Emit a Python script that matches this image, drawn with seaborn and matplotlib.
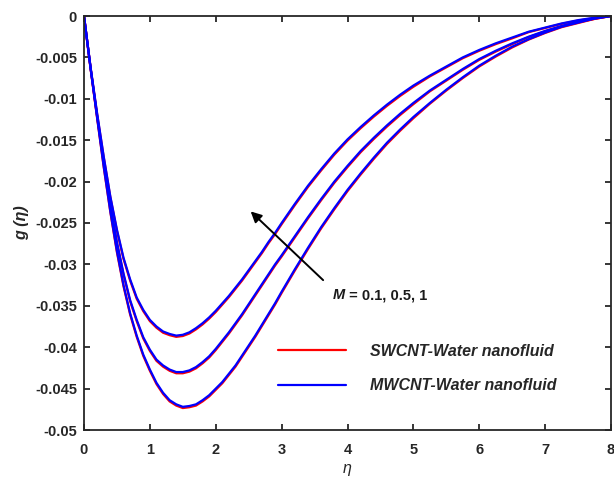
import numpy as np
import pandas as pd
import matplotlib
matplotlib.use("Agg")
import matplotlib.pyplot as plt
import seaborn as sns

# similarity variable
eta = [0.0, 0.1, 0.2, 0.3, 0.4, 0.5, 0.6, 0.7, 0.8, 0.9, 1.0, 1.1, 1.2, 1.3,
       1.4, 1.5, 1.6, 1.7, 1.8, 1.9, 2.0, 2.1, 2.2, 2.3, 2.4, 2.5, 2.6, 2.7,
       2.8, 2.9, 3.0,
       3.2, 3.4, 3.6, 3.8, 4.0, 4.2, 4.4, 4.6, 4.8, 5.0,
       5.25, 5.5, 5.75, 6.0, 6.25, 6.5, 6.75, 7.0, 7.25, 7.5, 7.75, 8.0]

# MWCNT-Water nanofluid, g(eta) for M = 1, 0.5, 0.1
mw_M1 = [0, -0.0062, -0.0118, -0.0170, -0.0218, -0.0258, -0.0292, -0.0318,
         -0.0340, -0.0355, -0.0367, -0.0375, -0.0381, -0.0384, -0.0386,
         -0.0385, -0.0382, -0.0377, -0.0371, -0.0364, -0.0356, -0.0347,
         -0.0338, -0.0328, -0.0318, -0.0307, -0.0296, -0.0285, -0.0273,
         -0.0262, -0.0250,
         -0.0227, -0.0205, -0.0185, -0.0166, -0.0149, -0.0134, -0.0120,
         -0.0107, -0.0095, -0.0084,
         -0.0072, -0.0061, -0.0050, -0.0041, -0.0033, -0.0026, -0.0019,
         -0.0014, -0.0009, -0.0005, -0.0002, 0]
mw_M05 = [0, -0.0063, -0.0121, -0.0177, -0.0228, -0.0273, -0.0311, -0.0343,
          -0.0367, -0.0388, -0.0403, -0.0415, -0.0422, -0.0427, -0.0430,
          -0.0430, -0.0428, -0.0424, -0.0418, -0.0411, -0.0402, -0.0392,
          -0.0382, -0.0371, -0.0360, -0.0348, -0.0336, -0.0324, -0.0312,
          -0.0300, -0.0289,
          -0.0266, -0.0243, -0.0221, -0.0200, -0.0181, -0.0163, -0.0147,
          -0.0132, -0.0118, -0.0105,
          -0.0090, -0.0077, -0.0064, -0.0052, -0.0042, -0.0033, -0.0025,
          -0.0018, -0.0012, -0.0007, -0.0003, 0]
mw_M01 = [0, -0.0063, -0.0123, -0.0182, -0.0236, -0.0284, -0.0325, -0.0359,
          -0.0386, -0.0409, -0.0427, -0.0443, -0.0455, -0.0464, -0.0469,
          -0.0472, -0.0471, -0.0469, -0.0464, -0.0458, -0.0450, -0.0442,
          -0.0432, -0.0422, -0.0410, -0.0398, -0.0386, -0.0373, -0.0360,
          -0.0347, -0.0333,
          -0.0306, -0.0280, -0.0255, -0.0232, -0.0210, -0.0190, -0.0171,
          -0.0153, -0.0137, -0.0122,
          -0.0105, -0.0089, -0.0074, -0.0060, -0.0048, -0.0037, -0.0028,
          -0.0020, -0.0013, -0.0008, -0.0003, 0]

# SWCNT-Water nanofluid, g(eta) for M = 1, 0.5, 0.1
sw_M1 = [0, -0.00625, -0.0119, -0.0171, -0.0219, -0.02595, -0.02935,
         -0.03195, -0.03415, -0.03565, -0.03685, -0.03765, -0.03825,
         -0.03855, -0.03875, -0.03865, -0.03835, -0.03785, -0.03725,
         -0.03655, -0.03575, -0.03485, -0.03395, -0.03295, -0.03195,
         -0.03085, -0.02975, -0.02865, -0.02745, -0.02635, -0.02515,
         -0.02285, -0.02065, -0.01865, -0.01675, -0.01505, -0.01355,
         -0.01215, -0.01085, -0.00965, -0.00855,
         -0.0073, -0.0062, -0.0051, -0.0042, -0.0034, -0.0027, -0.00195,
         -0.00145, -0.00095, -0.00055, -0.00025, 0]
sw_M05 = [0, -0.00635, -0.0122, -0.0178, -0.0229, -0.02745, -0.03125,
          -0.03445, -0.03685, -0.03895, -0.04045, -0.04165, -0.04235,
          -0.04285, -0.04315, -0.04315, -0.04295, -0.04255, -0.04195,
          -0.04125, -0.04035, -0.03935, -0.03835, -0.03725, -0.03615,
          -0.03495, -0.03375, -0.03255, -0.03135, -0.03015, -0.02905,
          -0.02675, -0.02445, -0.02225, -0.02015, -0.01825, -0.01645,
          -0.01485, -0.01335, -0.01195, -0.01065,
          -0.0091, -0.0078, -0.0065, -0.0053, -0.0043, -0.0034, -0.00255,
          -0.00185, -0.00125, -0.00075, -0.00035, 0]
sw_M01 = [0, -0.00635, -0.0124, -0.0183, -0.0237, -0.02855, -0.03265,
          -0.03605, -0.03875, -0.04105, -0.04285, -0.04445, -0.04565,
          -0.04655, -0.04705, -0.04735, -0.04725, -0.04705, -0.04655,
          -0.04595, -0.04515, -0.04435, -0.04335, -0.04235, -0.04115,
          -0.03995, -0.03875, -0.03745, -0.03615, -0.03485, -0.03345,
          -0.03075, -0.02815, -0.02565, -0.02335, -0.02115, -0.01915,
          -0.01725, -0.01545, -0.01385, -0.01235,
          -0.0106, -0.0090, -0.0075, -0.0061, -0.0049, -0.0038, -0.00285,
          -0.00205, -0.00135, -0.00085, -0.00035, 0]

fluids = ["SWCNT-Water nanofluid", "MWCNT-Water nanofluid"]
x_ticks = [0, 1, 2, 3, 4, 5, 6, 7, 8]
y_ticks = [0, -0.005, -0.01, -0.015, -0.02, -0.025, -0.03, -0.035, -0.04,
           -0.045, -0.05]

series = {
    (fluids[0], 1): sw_M1, (fluids[0], 0.5): sw_M05, (fluids[0], 0.1): sw_M01,
    (fluids[1], 1): mw_M1, (fluids[1], 0.5): mw_M05, (fluids[1], 0.1): mw_M01,
}
rows = []
for (fluid, m), g in series.items():
    assert len(g) == len(eta)
    for e, v in zip(eta, g):
        rows.append({"eta": e, "g": v, "M": m, "fluid": fluid})
df = pd.DataFrame(rows)

sns.set_style("ticks")
plt.rcParams["font.family"] = ["Liberation Sans", "DejaVu Sans"]
plt.rcParams["axes.unicode_minus"] = False

fig = plt.figure(figsize=(6.14, 4.82), dpi=100)
ax = fig.add_axes([84 / 614, 1 - 430 / 482, 527 / 614, 414 / 482])

sns.lineplot(data=df, x="eta", y="g", hue="fluid", units="M", estimator=None,
             hue_order=fluids, palette={fluids[0]: "#ff0000", fluids[1]: "#0000ff"},
             linewidth=1.6, sort=False, ax=ax)

ax.set_xlim(0, 8)
ax.set_ylim(-0.05, 0)
ax.set_xticks(x_ticks)
ax.set_yticks(y_ticks)
ax.set_xticklabels([f"{t:g}" for t in x_ticks])
ax.set_yticklabels([f"{t:g}" for t in y_ticks])

for s in ax.spines.values():
    s.set_visible(True)
    s.set_color("#262626")
    s.set_linewidth(1.3)
ax.tick_params(direction="in", length=4, width=1.3, color="#262626",
               top=True, right=True, labelsize=10.5, labelcolor="#262626")
ax.tick_params(axis="x", pad=9)
ax.tick_params(axis="y", pad=5)
for lbl in ax.get_xticklabels() + ax.get_yticklabels():
    lbl.set_fontweight("bold")

ax.set_xlabel("η", fontsize=11.5, fontstyle="italic", color="#262626")
ax.set_ylabel("g (η)", fontsize=11.5, fontstyle="italic", fontweight="bold",
              color="#262626")
ax.xaxis.set_label_coords(0.5, -0.075)
ax.yaxis.set_label_coords(-0.105, 0.5)

# arrow showing the effect of increasing M
ax.annotate("", xy=(2.53, -0.0236), xytext=(3.63, -0.0319),
            arrowprops=dict(arrowstyle="-|>", color="black", lw=1.4,
                            mutation_scale=16, shrinkA=0, shrinkB=0))
t1 = ax.text(3.78, -0.0337, "M", fontsize=10.5, fontstyle="italic",
             fontweight="bold", color="#1a1a1a", ha="left", va="center")
ax.annotate(" = 0.1, 0.5, 1", xy=(1, 0.5), xycoords=t1, ha="left",
            va="center", fontsize=10.5, fontweight="bold", color="#1a1a1a")

handles, labels = ax.get_legend_handles_labels()
leg = ax.legend(handles, labels, loc="upper left",
                bbox_to_anchor=((278 - 84) / 527, (430 - 344) / 414),
                frameon=False, borderpad=0, borderaxespad=0,
                handlelength=4.25, handletextpad=1.5, labelspacing=1.2,
                prop={"size": 11.5, "weight": "bold", "style": "italic"})
for line in leg.get_lines():
    line.set_linewidth(1.6)

fig.savefig("out.png", dpi=100)
